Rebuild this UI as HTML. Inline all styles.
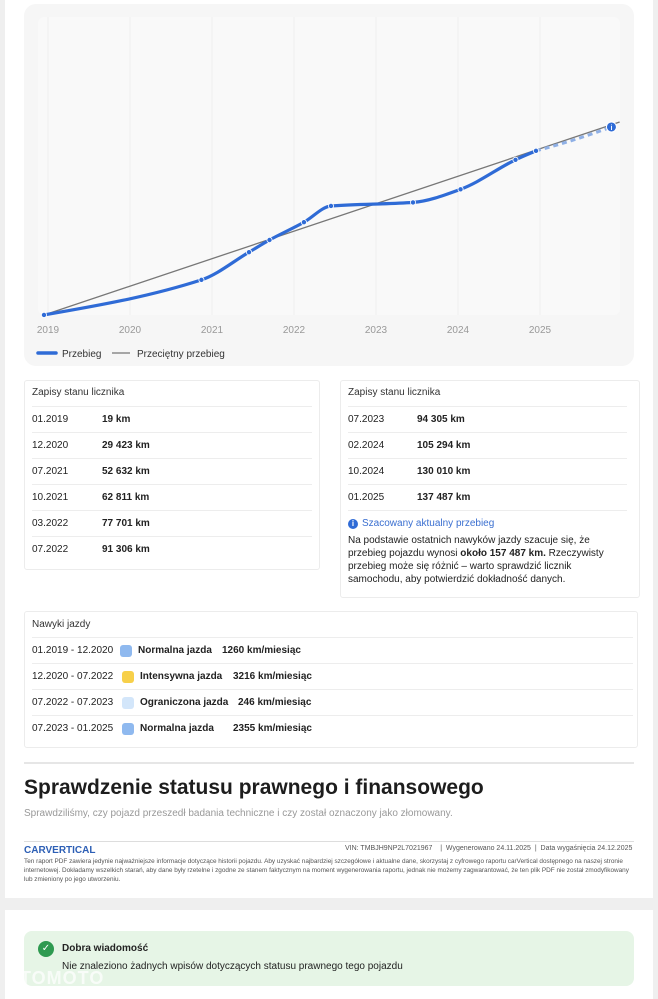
<!DOCTYPE html>
<html><head><meta charset="utf-8"><style>
*{box-sizing:border-box;margin:0;padding:0}
body{width:658px;height:999px;background:#efefef;font-family:"Liberation Sans",sans-serif;color:#222;position:relative;overflow:hidden}
.abs{position:absolute}
.card{position:absolute;background:#fff;border:1px solid #ececec;border-radius:3px}
.row{position:absolute;left:7px;right:7px;height:26px;border-top:1px solid #ededed;font-size:10px;line-height:26px}
.row .v{position:absolute;font-weight:bold}
.sq{position:absolute;top:7px;width:12px;height:12px;border-radius:3px}
</style></head><body>
<div class="abs" style="left:5px;top:0;width:648px;height:898px;background:#fff"></div>
<div class="abs" style="left:24px;top:4px;width:610px;height:362px;background:#f6f6f6;border-radius:12px"></div>
<svg class="abs" style="left:0;top:0" width="658" height="370" id="chart"></svg>
<div class="card" style="left:24px;top:380px;width:296px;height:190px">
<div class="abs" style="left:7px;top:6px;font-size:10px;color:#333">Zapisy stanu licznika</div>
<div class="row" style="top:25px">01.2019<span class="v" style="left:70px">19 km</span></div>
<div class="row" style="top:51px">12.2020<span class="v" style="left:70px">29 423 km</span></div>
<div class="row" style="top:77px">07.2021<span class="v" style="left:70px">52 632 km</span></div>
<div class="row" style="top:103px">10.2021<span class="v" style="left:70px">62 811 km</span></div>
<div class="row" style="top:129px">03.2022<span class="v" style="left:70px">77 701 km</span></div>
<div class="row" style="top:155px">07.2022<span class="v" style="left:70px">91 306 km</span></div>
</div>
<div class="card" style="left:340px;top:380px;width:300px;height:218px">
<div class="abs" style="left:7px;top:6px;font-size:10px;color:#333">Zapisy stanu licznika</div>
<div class="row" style="top:25px;right:12px">07.2023<span class="v" style="left:69px">94 305 km</span></div>
<div class="row" style="top:51px;right:12px">02.2024<span class="v" style="left:69px">105 294 km</span></div>
<div class="row" style="top:77px;right:12px">10.2024<span class="v" style="left:69px">130 010 km</span></div>
<div class="row" style="top:103px;right:12px">01.2025<span class="v" style="left:69px">137 487 km</span></div>
<div class="abs" style="left:7px;top:129px;right:12px;border-top:1px solid #ededed"></div>
<div class="abs" style="left:7px;top:137px;font-size:10px;color:#3a6fd0"><span style="display:inline-block;width:10px;height:10px;border-radius:50%;background:#2f6bd6;color:#fff;font-size:8px;line-height:10px;text-align:center;font-weight:bold;margin-right:4px">i</span>Szacowany aktualny przebieg</div>
<div class="abs" style="left:7px;top:153px;width:275px;font-size:10px;line-height:13px;color:#222">Na podstawie ostatnich nawyków jazdy szacuje się, że przebieg pojazdu wynosi <b>około 157 487 km.</b> Rzeczywisty przebieg może się różnić – warto sprawdzić licznik samochodu, aby potwierdzić dokładność danych.</div>
</div>
<div class="card" style="left:24px;top:611px;width:614px;height:137px">
<div class="abs" style="left:7px;top:7px;font-size:10px;color:#333">Nawyki jazdy</div>
<div class="row" style="top:25px;right:4px">01.2019 - 12.2020<span class="sq" style="left:88px;background:#8fb9ef"></span><span class="v" style="left:106px">Normalna jazda</span><span class="v" style="left:190px">1260 km/miesiąc</span></div>
<div class="row" style="top:51px;right:4px">12.2020 - 07.2022<span class="sq" style="left:90px;background:#f7d04a"></span><span class="v" style="left:108px">Intensywna jazda</span><span class="v" style="left:201px">3216 km/miesiąc</span></div>
<div class="row" style="top:77px;right:4px">07.2022 - 07.2023<span class="sq" style="left:90px;background:#d3e6fa"></span><span class="v" style="left:108px">Ograniczona jazda</span><span class="v" style="left:206px">246 km/miesiąc</span></div>
<div class="row" style="top:103px;right:4px">07.2023 - 01.2025<span class="sq" style="left:90px;background:#8fb9ef"></span><span class="v" style="left:108px">Normalna jazda</span><span class="v" style="left:201px">2355 km/miesiąc</span></div>
</div>
<div class="abs" style="left:24px;top:762px;width:610px;height:2px;background:#e6e6e6"></div>
<div class="abs" style="left:24px;top:776px;font-size:21px;font-weight:bold;color:#1d1d1d">Sprawdzenie statusu prawnego i finansowego</div>
<div class="abs" style="left:24px;top:808px;font-size:10px;color:#999">Sprawdziliśmy, czy pojazd przeszedł badania techniczne i czy został oznaczony jako złomowany.</div>
<div class="abs" style="left:24px;top:841px;width:610px;height:1px;background:#ddd"></div>
<div class="abs" style="left:24px;top:845px;font-size:10px;font-weight:bold;color:#2d5fb5">CARVERTICAL</div>
<div class="abs" style="left:345px;top:845px;font-size:7px;color:#555;white-space:nowrap">VIN: TMBJH9NP2L7021967 &nbsp;&nbsp; | &nbsp;Wygenerowano 24.11.2025 &nbsp;| &nbsp;Data wygaśnięcia 24.12.2025</div>
<div class="abs" style="left:24px;top:857px;width:612px;font-size:6.4px;line-height:9px;color:#555">Ten raport PDF zawiera jedynie najważniejsze informacje dotyczące historii pojazdu. Aby uzyskać najbardziej szczegółowe i aktualne dane, skorzystaj z cyfrowego raportu carVertical dostępnego na naszej stronie internetowej. Dokładamy wszelkich starań, aby dane były rzetelne i zgodne ze stanem faktycznym na moment wygenerowania raportu, jednak nie możemy zagwarantować, że ten plik PDF nie został zmodyfikowany lub zmieniony po jego utworzeniu.</div>
<div class="abs" style="left:5px;top:910px;width:648px;height:89px;background:#fff"></div>
<div class="abs" style="left:24px;top:931px;width:610px;height:55px;background:#e6f5e6;border-radius:8px">
<div class="abs" style="left:14px;top:10px;width:16px;height:16px;border-radius:50%;background:#2e9a50;color:#fff;font-size:10px;text-align:center;line-height:16px">✓</div>
<div class="abs" style="left:38px;top:12px;font-size:10px;font-weight:bold">Dobra wiadomość</div>
<div class="abs" style="left:38px;top:30px;font-size:10px">Nie znaleziono żadnych wpisów dotyczących statusu prawnego tego pojazdu</div>
</div>
<div class="abs" style="left:5px;top:968px;font-size:18px;font-weight:bold;color:rgba(255,255,255,0.7);letter-spacing:1px">OTOMOTO</div>
<script>
const years=["2019","2020","2021","2022","2023","2024","2025"];
const recDates=[2019.0,2020.92,2021.5,2021.75,2022.17,2022.5,2023.5,2024.08,2024.75,2025.0];
const recKm=[19,29423,52632,62811,77701,91306,94305,105294,130010,137487];
const estDate=[2025.92];
const estKm=[157487];
const avgDates=[2019.0,2026.02];
const avgKm=[0,161600];
const NS="http://www.w3.org/2000/svg";
const svg=document.getElementById('chart');
const X=d=>44+(d-2019)*82;
const Y=k=>315-k*0.001194;
function el(t,a){const e=document.createElementNS(NS,t);for(const k in a)e.setAttribute(k,a[k]);svg.appendChild(e);return e;}
const pa=el('rect',{x:38,y:17,width:582,height:298,rx:6,fill:'#f9f9f9'});


years.forEach((y,i)=>{
 const x=X(+y)+4;
 const g=el('line',{x1:x,x2:x,y1:17,y2:315,stroke:'#efefef'});
 
 
 const t=el('text',{x:x,y:333,'text-anchor':'middle','font-size':10,fill:'#999','font-family':'Liberation Sans'});
 t.textContent=y;
 
 
});
const avg=el('line',{x1:X(avgDates[0]),y1:Y(avgKm[0]),x2:X(avgDates[1]),y2:Y(avgKm[1]),stroke:'#777','stroke-width':1.3});


function monotone(pts){
 const n=pts.length,s=[],m=[];
 for(let i=0;i<n-1;i++)s.push((pts[i+1][1]-pts[i][1])/(pts[i+1][0]-pts[i][0]));
 for(let i=1;i<n-1;i++){const a=s[i-1],b=s[i];m[i]=(a*b<=0)?0:2*a*b/(a+b);}
 m[0]=(3*s[0]-m[1])/2; m[n-1]=(3*s[n-2]-m[n-2])/2;
 let d=`M${pts[0][0]},${pts[0][1]}`;
 for(let i=0;i<n-1;i++){
  const h=(pts[i+1][0]-pts[i][0])/3;
  d+=` C${pts[i][0]+h},${pts[i][1]+m[i]*h} ${pts[i+1][0]-h},${pts[i+1][1]-m[i+1]*h} ${pts[i+1][0]},${pts[i+1][1]}`;
 }
 return d;
}
const pts=recDates.map((d,i)=>[X(d),Y(recKm[i])]);
const line=el('path',{d:monotone(pts),fill:'none',stroke:'#2f6bd6','stroke-width':3.2,'stroke-linecap':'round'});


const last=pts[pts.length-1],ep=[X(estDate[0]),Y(estKm[0])];
const est=el('path',{d:`M${last[0]},${last[1]} Q${(last[0]+ep[0])/2},${(last[1]+ep[1])/2+2} ${ep[0]},${ep[1]}`,fill:'none',stroke:'#8fb0e6','stroke-width':3,'stroke-dasharray':'5 4'});


pts.forEach(p=>{
 const c=el('circle',{cx:p[0],cy:p[1],r:2.6,fill:'#2f6bd6',stroke:'#fff','stroke-width':0.8});
 
 
});
const ec=el('circle',{cx:ep[0],cy:ep[1],r:5,fill:'#2f6bd6',stroke:'#fff','stroke-width':1});


const et=el('text',{x:ep[0],y:ep[1]+3,'text-anchor':'middle','font-size':7,'font-weight':'bold',fill:'#fff','font-family':'Liberation Sans'});
et.textContent='i';
const l1=el('line',{x1:38,x2:56,y1:353,y2:353,stroke:'#2f6bd6','stroke-width':3.5,'stroke-linecap':'round'});


const lt1=el('text',{x:62,y:357,'font-size':10,fill:'#333','font-family':'Liberation Sans'});
lt1.textContent='Przebieg';


const l2=el('line',{x1:112,x2:130,y1:353,y2:353,stroke:'#777','stroke-width':1.3});


const lt2=el('text',{x:137,y:357,'font-size':10,fill:'#333','font-family':'Liberation Sans'});
lt2.textContent='Przeciętny przebieg';


</script>
</body></html>
